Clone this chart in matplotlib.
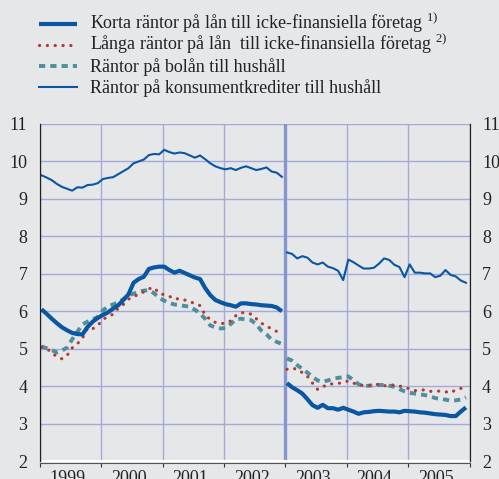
import numpy as np
import matplotlib
matplotlib.use("Agg")
import matplotlib.pyplot as plt
import matplotlib.transforms as mtrans
from matplotlib.lines import Line2D
from matplotlib.ticker import FixedLocator, NullFormatter, FixedFormatter

plt.rcParams['font.family'] = ['Liberation Serif', 'DejaVu Serif']
plt.rcParams['mathtext.fontset'] = 'custom'
plt.rcParams['mathtext.rm'] = 'Liberation Serif'
plt.rcParams['mathtext.it'] = 'Liberation Serif'

# ---- data (monthly, Jan 1999 - Dec 2002 and Jan 2003 - Dec 2005) ----
korta_1 = [6.05, 5.93, 5.80, 5.68, 5.57, 5.49, 5.42, 5.39, 5.38, 5.58, 5.72, 5.82,
           5.90, 5.97, 6.07, 6.16, 6.30, 6.45, 6.76, 6.86, 6.92, 7.13, 7.17, 7.19,
           7.19, 7.10, 7.03, 7.08, 7.02, 6.96, 6.90, 6.86, 6.62, 6.43, 6.30, 6.24,
           6.19, 6.16, 6.12, 6.21, 6.21, 6.19, 6.18, 6.16, 6.15, 6.14, 6.10, 6.00]
korta_2 = [4.08, 3.97, 3.89, 3.80, 3.65, 3.49, 3.42, 3.50, 3.41, 3.41, 3.37, 3.42,
           3.37, 3.32, 3.26, 3.30, 3.31, 3.33, 3.34, 3.33, 3.32, 3.32, 3.30, 3.34,
           3.33, 3.32, 3.30, 3.29, 3.27, 3.25, 3.24, 3.23, 3.20, 3.20, 3.32, 3.43]

langa_1 = [5.04, 5.00, 4.90, 4.78, 4.73, 4.82, 5.02, 5.13, 5.28, 5.55, 5.53, 5.62,
           5.78, 5.86, 5.92, 6.08, 6.18, 6.32, 6.40, 6.44, 6.52, 6.60, 6.63, 6.48,
           6.44, 6.40, 6.32, 6.34, 6.30, 6.25, 6.21, 6.15, 5.90, 5.78, 5.70, 5.67,
           5.68, 5.74, 5.88, 5.96, 5.96, 5.92, 5.80, 5.68, 5.60, 5.53, 5.46, 5.40]
langa_2 = [4.45, 4.48, 4.45, 4.36, 4.26, 4.08, 3.91, 3.98, 4.05, 4.06, 4.07, 4.10,
           4.14, 4.08, 4.04, 4.01, 4.02, 4.03, 4.05, 4.01, 4.02, 4.03, 4.00, 3.98,
           3.92, 3.88, 3.89, 3.90, 3.86, 3.86, 3.87, 3.85, 3.82, 3.90, 3.94, 3.97]

bolan_1 = [5.06, 5.01, 4.96, 4.90, 4.95, 5.03, 5.25, 5.45, 5.65, 5.72, 5.78, 5.85,
           6.02, 6.13, 6.18, 6.24, 6.32, 6.42, 6.47, 6.52, 6.55, 6.56, 6.48, 6.36,
           6.28, 6.22, 6.18, 6.16, 6.14, 6.12, 6.04, 5.94, 5.80, 5.62, 5.57, 5.54,
           5.55, 5.66, 5.78, 5.80, 5.78, 5.76, 5.65, 5.48, 5.38, 5.24, 5.18, 5.13]
bolan_2 = [4.74, 4.68, 4.56, 4.46, 4.36, 4.25, 4.15, 4.12, 4.15, 4.20, 4.22, 4.24,
           4.26, 4.16, 4.05, 4.00, 4.01, 4.02, 4.03, 4.03, 4.01, 3.98, 3.92, 3.86,
           3.82, 3.80, 3.78, 3.76, 3.73, 3.68, 3.66, 3.64, 3.61, 3.62, 3.64, 3.70]

konsum_1 = [9.63, 9.57, 9.50, 9.40, 9.32, 9.27, 9.22, 9.31, 9.30, 9.37, 9.38, 9.42,
            9.53, 9.56, 9.58, 9.66, 9.74, 9.82, 9.95, 10.00, 10.05, 10.17, 10.20, 10.19,
            10.31, 10.25, 10.21, 10.24, 10.22, 10.16, 10.10, 10.16, 10.06, 9.95, 9.87, 9.82,
            9.79, 9.82, 9.77, 9.83, 9.87, 9.82, 9.77, 9.80, 9.84, 9.73, 9.70, 9.59]
konsum_2 = [7.57, 7.53, 7.41, 7.47, 7.43, 7.30, 7.25, 7.30, 7.19, 7.15, 7.08, 6.83,
            7.38, 7.31, 7.22, 7.14, 7.14, 7.16, 7.27, 7.41, 7.37, 7.24, 7.18, 6.91,
            7.25, 7.03, 7.03, 7.01, 7.01, 6.91, 6.95, 7.10, 6.97, 6.93, 6.82, 6.76]

years = ['1999', '2000', '2001', '2002', '2003', '2004', '2005']
labels = ['Korta räntor på lån till icke-finansiella företag $^{\\mathrm{1)}}$',
          'Långa räntor på lån  till icke-finansiella företag $^{\\mathrm{2)}}$',
          'Räntor på bolån till hushåll',
          'Räntor på konsumentkrediter till hushåll']

t1 = 1999 + (np.arange(len(korta_1)) + 0.3) / 12
t2 = 2003 + (np.arange(len(korta_2)) + 0.3) / 12

BG = '#e6e7e9'
GRID = '#a2abd8'
BLUE = '#0a56a2'
RED = '#b43a30'
TEAL = '#4f8e9d'
TXT = '#222222'

W, H = 499, 479
fig = plt.figure(figsize=(W / 100, H / 100), dpi=100, facecolor=BG)
ax = fig.add_axes([40 / W, 1 - 461 / H, 429.5 / W, 337 / H])
ax.set_facecolor(BG)
ax.set_xlim(1999, 2006)
ax.set_ylim(2, 11)

# grid
for y in range(3, 12):
    ax.axhline(y, color=GRID, lw=1.0, zorder=1)
for yr in range(2000, 2006):
    if yr == 2003:
        ax.axvline(yr, color='#8595cf', lw=2.4, zorder=1)
    else:
        ax.axvline(yr, color=GRID, lw=1.0, zorder=1)

def both(t_a, a, t_b, b, **kw):
    t = np.concatenate([t_a, [np.nan], t_b])
    v = np.concatenate([a, [np.nan], b])
    return ax.plot(t, v, **kw)[0]

styles = [dict(color=BLUE, lw=3.0, solid_capstyle='butt', zorder=5),
          dict(color=RED, lw=2.3, dashes=(0.05, 2.4), dash_capstyle='round', zorder=4),
          dict(color=TEAL, lw=2.8, dashes=(1.6, 1.3), dash_capstyle='butt', zorder=3),
          dict(color=BLUE, lw=1.5, zorder=5)]
both(t1, korta_1, t2, korta_2, **styles[0])
both(t1, langa_1, t2, langa_2, **styles[1])
both(t1, bolan_1, t2, bolan_2, **styles[2])
both(t1, konsum_1, t2, konsum_2, **styles[3])

# spines with white edge
ax.spines['top'].set_visible(False)
for s in ['left', 'right']:
    ax.spines[s].set_color('#222222')
    ax.spines[s].set_linewidth(1.0)
    ax.spines[s].set_zorder(6)
off = lambda dx, dy: ax.transAxes + mtrans.ScaledTranslation(dx / 100, dy / 100, fig.dpi_scale_trans)
ax.add_line(Line2D([0, 0], [0, 1], transform=off(-1.3, 0), color='white', lw=1.0,
                   clip_on=False, zorder=6))
ax.add_line(Line2D([1, 1], [0, 1], transform=off(1.3, 0), color='white', lw=1.0,
                   clip_on=False, zorder=6))
ax.add_line(Line2D([0, 1], [0, 0], transform=off(0, 0), color='white', lw=1.6,
                   clip_on=False, zorder=6))
ax.spines['bottom'].set_position(('outward', 1.2))
ax.spines['bottom'].set_color('#555555')
ax.spines['bottom'].set_linewidth(0.8)

# y ticks on both sides
ax.set_yticks(range(2, 12))
ax.tick_params(axis='y', which='both', length=0, labelsize=13, colors=TXT,
               left=True, right=True, labelleft=True, labelright=True, pad=9)

# x ticks: year boundaries (marks) and year labels near mid-year
ax.xaxis.set_major_locator(FixedLocator(list(range(1999, 2007))))
ax.xaxis.set_major_formatter(NullFormatter())
ax.xaxis.set_minor_locator(FixedLocator([int(y) + 0.45 for y in years]))
ax.xaxis.set_minor_formatter(FixedFormatter(years))
ax.tick_params(axis='x', which='major', length=3, width=0.8, direction='out', color='#333333')
ax.tick_params(axis='x', which='minor', length=0, labelsize=13, colors=TXT, pad=5.5)

# legend rows
for i, (lab, st) in enumerate(zip(labels, styles)):
    yc = 23.5 + 21.3 * i
    kw = {k: v for k, v in st.items() if k != 'zorder'}
    fig.add_artist(Line2D([39 / W, 77 / W], [1 - yc / H, 1 - yc / H],
                          transform=fig.transFigure, **kw))
    fig.text(90 / W, 1 - (yc + 5.5) / H, lab, fontsize=13, color=TXT, va='baseline', ha='left')

fig.savefig('out.png', dpi=100, facecolor=BG)
